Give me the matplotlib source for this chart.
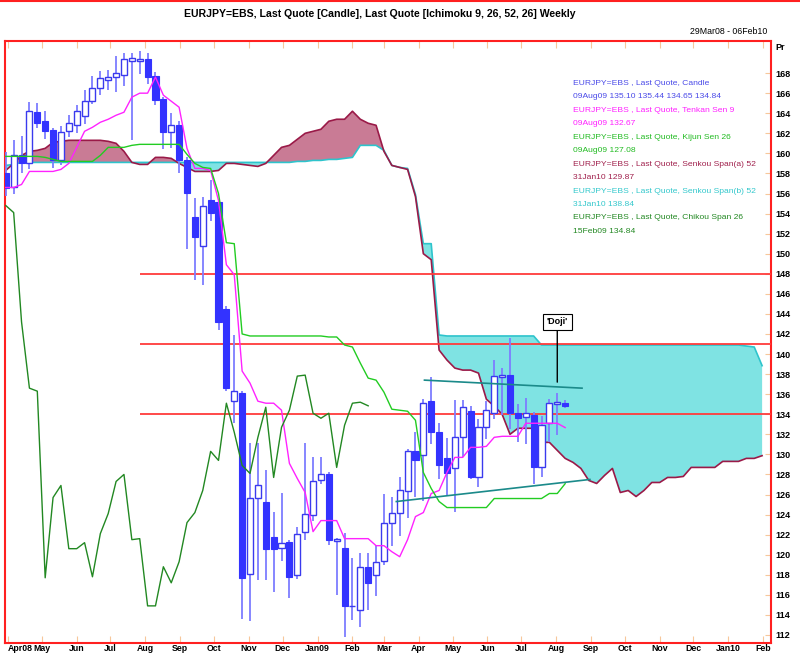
import numpy as np
import pandas as pd
import matplotlib
matplotlib.use('Agg')
import matplotlib.pyplot as plt
import matplotlib.dates as mdates
from matplotlib.lines import Line2D

plt.rcParams['font.family'] = ['Liberation Sans', 'DejaVu Sans']

# weekly bars (Sundays), 72 candles + 25 weeks of projected cloud
weeks = pd.date_range('2008-03-30', periods=97, freq='7D')

opens = [158.0, 156.6, 159.8, 159.0, 164.1, 163.2, 162.3, 159.3, 162.2, 162.8,
         163.7, 165.2, 166.5, 167.3, 167.6, 167.8, 169.2, 169.2, 169.4, 167.7,
         165.4, 162.1, 162.8, 159.3, 153.7, 150.8, 155.4, 155.2, 144.5, 135.3,
         136.1, 118.1, 125.7, 125.3, 121.8, 120.7, 121.3, 118.0, 122.3, 124.0,
         127.4, 128.0, 121.4, 120.7, 114.9, 114.5, 118.8, 118.0, 119.4, 123.2,
         124.2, 126.3, 130.3, 129.9, 135.3, 132.2, 129.6, 128.6, 131.7, 134.3,
         127.7, 132.7, 134.1, 137.7, 137.9, 134.1, 133.7, 133.9, 128.7, 133.1,
         135.0, 135.10]
highs = [160.1, 161.3, 161.7, 165.1, 165.0, 164.2, 162.5, 162.7, 163.8, 164.8,
         166.3, 167.7, 168.2, 168.3, 169.7, 170.0, 170.0, 170.2, 170.0, 168.1,
         165.6, 164.0, 163.2, 159.6, 155.6, 155.7, 157.3, 155.5, 144.8, 141.9,
         136.3, 131.1, 131.1, 128.4, 124.3, 126.2, 121.5, 122.8, 131.1, 129.7,
         129.7, 128.2, 121.7, 122.2, 119.7, 120.2, 120.2, 121.0, 126.1, 125.8,
         127.7, 130.5, 132.2, 135.5, 137.7, 133.1, 131.6, 135.4, 135.4, 134.8,
         133.5, 135.3, 139.4, 138.6, 141.6, 135.0, 135.6, 134.2, 133.8, 135.5,
         136.1, 135.44]
lows = [155.8, 156.0, 158.0, 158.4, 162.5, 161.4, 158.5, 158.8, 161.6, 162.0,
        162.9, 164.9, 165.8, 166.3, 166.1, 166.7, 161.3, 167.9, 166.9, 164.8,
        160.4, 160.5, 158.0, 150.5, 147.4, 146.9, 153.3, 142.4, 136.3, 133.1,
        113.6, 113.4, 117.5, 117.5, 116.3, 119.4, 115.7, 117.6, 121.5, 123.4,
        127.0, 121.0, 116.0, 111.8, 113.5, 112.8, 114.5, 115.9, 119.0, 120.9,
        121.9, 123.7, 125.8, 125.4, 131.0, 127.5, 125.9, 124.3, 129.7, 127.5,
        126.7, 131.5, 133.5, 133.9, 132.5, 131.2, 131.0, 127.0, 127.7, 131.2,
        131.9, 134.65]
closes = [156.5, 159.8, 159.0, 164.2, 163.0, 162.2, 159.3, 162.1, 163.0, 164.2,
          165.2, 166.5, 167.5, 167.6, 168.0, 169.4, 169.5, 169.4, 167.6, 165.3,
          162.1, 162.8, 159.3, 156.1, 151.7, 154.8, 154.1, 143.2, 136.6, 136.3,
          117.7, 125.7, 126.9, 120.6, 120.6, 121.2, 117.8, 122.1, 124.1, 127.3,
          128.0, 121.5, 121.6, 114.9, 114.9, 118.8, 117.2, 119.3, 123.2, 124.2,
          126.4, 130.3, 129.4, 135.1, 132.2, 128.9, 128.1, 131.7, 134.7, 127.7,
          132.7, 134.4, 137.8, 137.9, 134.1, 133.6, 134.1, 128.7, 132.9, 135.1,
          135.2, 134.84]

tenkan = [156.6, 156.6, 156.9, 158.2, 158.2, 158.2, 158.2, 158.4, 159.0, 160.6,
          162.2, 162.6, 163.1, 163.4, 163.8, 164.1, 165.6, 166.0, 166.0, 167.6,
          165.8, 165.2, 164.6, 160.5, 158.5, 158.5, 158.3, 155.3, 148.9, 147.9,
          138.3, 137.1, 135.3, 135.1, 135.1, 134.4, 129.1, 127.6, 126.2, 122.3,
          123.4, 123.4, 123.4, 121.6, 121.6, 121.6, 121.6, 120.9, 120.9, 120.3,
          119.8, 121.5, 123.8, 124.2, 126.1, 126.4, 128.2, 129.7, 129.7, 130.7,
          130.7, 130.8, 131.7, 131.8, 131.8, 131.8, 133.1, 133.1, 133.1, 133.1,
          133.1, 132.67]
kijun = [159.7, 159.7, 159.7, 159.7, 159.7, 159.6, 159.4, 159.2, 159.2, 159.2,
         159.2, 159.2, 159.8, 160.6, 160.6, 160.6, 160.8, 160.9, 160.9, 160.9,
         160.9, 160.9, 160.9, 159.9, 159.0, 158.6, 158.5, 156.0, 151.1, 151.0,
         142.0, 141.8, 141.8, 141.8, 141.8, 141.8, 141.8, 141.8, 141.8, 141.8,
         141.8, 141.7, 141.7, 140.9, 140.7, 139.1, 137.6, 137.4, 136.2, 134.5,
         134.4, 134.3, 133.4, 128.2, 126.6, 125.3, 124.7, 124.7, 124.7, 124.7,
         124.7, 124.7, 125.6, 125.6, 125.6, 125.6, 125.6, 125.6, 125.6, 126.1,
         126.1, 127.08]
senkou_a = [158.3, 159.0, 159.8, 160.2, 160.3, 160.5, 161.1, 161.2, 161.3, 161.3,
            161.3, 161.3, 161.3, 161.2, 161.0, 160.2, 159.1, 158.9, 158.9, 159.6,
            159.6, 159.5, 159.0, 158.6, 158.2, 158.2, 158.2, 158.3, 159.0, 159.0,
            158.9, 158.8, 158.7, 159.0, 159.8, 160.6, 160.8, 161.4, 162.0, 162.2,
            162.4, 163.2, 163.4, 163.4, 164.2, 163.4, 163.0, 162.8, 160.2, 158.8,
            158.6, 158.4, 155.7, 150.0, 149.4, 140.4, 139.4, 138.6, 138.4, 138.4,
            138.1, 135.5, 134.8, 134.0, 132.0, 132.6, 132.6, 132.6, 131.2, 131.2,
            130.4, 129.6, 129.2, 128.6, 127.4, 127.1, 127.9, 128.6, 126.2, 126.4,
            125.8, 126.4, 127.2, 127.2, 127.7, 127.7, 127.8, 128.7, 128.7, 128.7,
            128.7, 129.3, 129.3, 129.3, 129.6, 129.6, 129.87]
senkou_b = [158.8, 158.9] + [159.1] * 35 + [159.2, 159.2, 159.3, 159.3, 159.4,
            159.4, 159.5, 159.6, 160.8, 160.8, 160.8, 160.3, 158.8, 158.6, 158.5,
            155.9, 151.0, 151.0, 141.9] + [141.8] * 12 + [140.9] * 26 + [140.8, 140.7, 138.84]

levels = [148, 141, 134]
level_start = '2008-07-27'

# hand drawn trend lines (date, price)
trend_upper = [('2009-04-06', 137.4), ('2009-08-24', 136.6)]
trend_lower = [('2009-03-12', 125.3), ('2009-08-31', 127.5)]

month_ticks = pd.date_range('2008-04-01', '2010-02-01', freq='MS')

x = mdates.date2num(weeks)
n = len(closes)
xc = x[:n]
o = np.array(opens); h = np.array(highs); l = np.array(lows); c = np.array(closes)
a = np.array(senkou_a); b = np.array(senkou_b)

fig = plt.figure(figsize=(8, 6.54), dpi=100)
ax = fig.add_axes([5 / 800, 1 - 643 / 654, 766 / 800, 602 / 654])

# cloud
ax.fill_between(x, a, b, where=a >= b, interpolate=True, color='#c97b95', lw=0, zorder=1)
ax.fill_between(x, a, b, where=b >= a, interpolate=True, color='#7fe3e3', lw=0, zorder=1)
ax.plot(x, b, color='#2ec4cc', lw=1.2, zorder=2)
ax.plot(x, a, color='#9a1a48', lw=1.2, zorder=2)

# support / resistance levels
x_lv = mdates.date2num(pd.Timestamp(level_start))
x0 = mdates.date2num(pd.Timestamp('2008-04-01')) - 2.7
x1 = mdates.date2num(pd.Timestamp('2008-04-01')) + 677.9
ax.hlines(levels, x_lv, x1, color='#ff3b3b', lw=1.3, zorder=3)

# candles
up = c >= o
ax.vlines(xc, l, h, color='#7d7dff', lw=1.3, zorder=4)
ax.bar(xc[~up], (o - c)[~up], bottom=c[~up], width=5.4, color='#3333ff',
       edgecolor='#3333ff', lw=0.8, zorder=5)
ax.bar(xc[up], (c - o)[up], bottom=o[up], width=5.4, color='white',
       edgecolor='#3a3aee', lw=1.0, zorder=5)

# ichimoku lines
ax.plot(xc, tenkan, color='#ff22ff', lw=1.0, zorder=6)
ax.plot(xc, kijun, color='#22cc22', lw=1.0, zorder=6)
ax.plot(xc[:n - 25], c[25:], color='#228822', lw=1.0, zorder=6)

for line in (trend_upper, trend_lower):
    tx = mdates.date2num(pd.to_datetime([p[0] for p in line]))
    ax.plot(tx, [p[1] for p in line], color='#1b8a8a', lw=1.2, zorder=7)

doji_x = mdates.date2num(pd.Timestamp('2009-08-02'))
ax.annotate("'Doji'", xy=(doji_x, 137.2), xytext=(doji_x, 143.2), ha='center', va='center',
            fontsize=6.5, fontweight='bold',
            bbox=dict(boxstyle='square,pad=0.4', fc='white', ec='black', lw=0.8),
            arrowprops=dict(arrowstyle='-', color='black', lw=1, shrinkA=0, shrinkB=0),
            zorder=8)

ax.set_xlim(x0, x1)
ax.set_ylim(111.2, 171.2)

# axes
labels = []
for d in month_ticks:
    if d.month == 1 or d == month_ticks[0]:
        labels.append(d.strftime('%b%y'))
    else:
        labels.append(d.strftime('%b'))
ax.set_xticks(mdates.date2num(month_ticks))
ax.set_xticklabels(labels)
ax.set_yticks(np.arange(112, 170, 2))
ax.yaxis.tick_right()
ax.tick_params(axis='x', direction='in', length=5, color='#f7c79a', top=True, bottom=True,
               labelsize=6.3, pad=0.8)
ax.tick_params(axis='y', direction='in', length=4, color='#f7c79a', right=True, left=False,
               labelsize=6.5, pad=3)
for t in ax.get_xticklabels() + ax.get_yticklabels():
    t.set_fontweight('bold')
ax.get_xticklabels()[0].set_horizontalalignment('left')
for s in ax.spines.values():
    s.set_color('#ff2020')
    s.set_linewidth(1.5)

# legend block
legend_lines = [
    ('EURJPY=EBS , Last Quote, Candle', '#4a4ae8'),
    ('09Aug09 %.2f %.2f %.2f %.2f' % (opens[-1], highs[-1], lows[-1], closes[-1]), '#4a4ae8'),
    ('EURJPY=EBS , Last Quote, Tenkan Sen 9', '#ff20ff'),
    ('09Aug09 %.2f' % tenkan[-1], '#ff20ff'),
    ('EURJPY=EBS , Last Quote, Kijun Sen 26', '#22bb22'),
    ('09Aug09 %.2f' % kijun[-1], '#22bb22'),
    ('EURJPY=EBS , Last Quote, Senkou Span(a) 52', '#a0204c'),
    ('31Jan10 %.2f' % senkou_a[-1], '#a0204c'),
    ('EURJPY=EBS , Last Quote, Senkou Span(b) 52', '#33c8cc'),
    ('31Jan10 %.2f' % senkou_b[-1], '#33c8cc'),
    ('EURJPY=EBS , Last Quote, Chikou Span 26', '#228822'),
    ('15Feb09 %.2f' % closes[-1], '#228822'),
]
for k, (txt, col) in enumerate(legend_lines):
    fig.text(573 / 800, 1 - (83.5 + 13.45 * k) / 654, txt, color=col, fontsize=6.1,
             ha='left', va='center')

fig.text(0.475, 1 - 14 / 654, 'EURJPY=EBS, Last Quote [Candle], Last Quote [Ichimoku 9, 26, 52, 26] Weekly',
         ha='center', va='center', fontsize=7.6, fontweight='bold')
fig.text(767 / 800, 1 - 31 / 654, '29Mar08 - 06Feb10', ha='right', va='center', fontsize=6.3)
fig.text(775 / 800, 1 - 47 / 654, 'Pr', ha='left', va='center', fontsize=6.5, fontweight='bold')
fig.add_artist(Line2D([0, 1], [0.9985, 0.9985], color='#ff2020', lw=1.5, transform=fig.transFigure))

fig.savefig('out.png', dpi=100)
